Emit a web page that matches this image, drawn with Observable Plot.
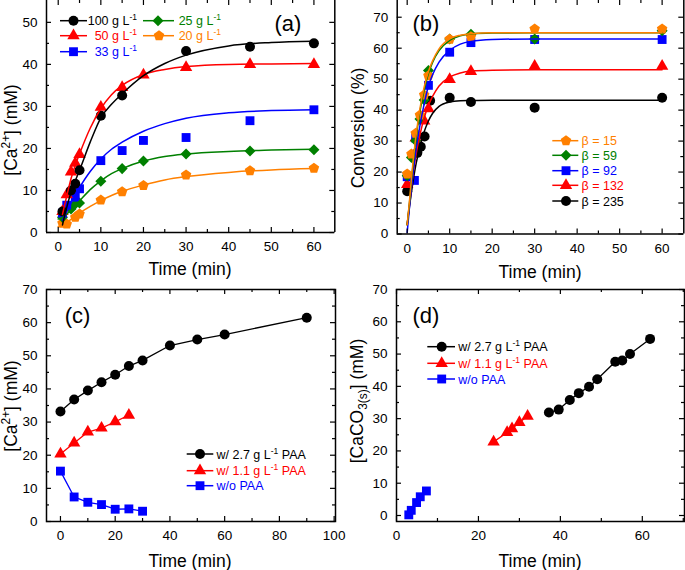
<!DOCTYPE html>
<html><head><meta charset="utf-8">
<script src="https://cdn.jsdelivr.net/npm/d3@7"></script>
<script src="https://cdn.jsdelivr.net/npm/@observablehq/plot@0.6"></script>
<style>
body{margin:0;background:#fff;}
#wrap{position:relative;width:685px;height:570px;overflow:hidden;background:#fff;}
#wrap svg{position:absolute;overflow:visible;}
</style></head><body><div id="wrap"></div>
<script>
// ---------- colours ----------
const cBlack = "#000000", cRed = "#ff0000", cBlue = "#0000ff", cGreen = "#008000", cOrange = "#ff8000";

// ---------- panel (a): [Ca2+] vs time for solid loadings ----------
const aT100 = [1, 3, 4, 5, 10, 15, 30, 45, 60];
const aC100 = [5.0, 10.0, 11.6, 14.8, 27.8, 32.6, 43.2, 44.2, 45.0];
const aT50 = [1, 2, 3, 4, 5, 10, 15, 20, 30, 45, 60];
const aC50 = [5.0, 9.0, 14.4, 16.5, 18.6, 29.8, 34.5, 37.5, 39.3, 40.0, 40.0];
const aT33 = [1, 2, 4, 5, 10, 15, 20, 30, 45, 60];
const aC33 = [4.6, 6.5, 8.4, 10.4, 17.1, 19.5, 21.9, 22.6, 26.6, 29.2];
const aT25 = [1, 3, 4, 5, 10, 15, 20, 30, 45, 60];
const aC25 = [3.6, 5.6, 6.8, 7.0, 12.2, 15.2, 17.0, 18.7, 19.4, 19.7];
const aT20 = [1, 2, 4, 5, 10, 15, 20, 30, 45, 60];
const aC20 = [2.2, 2.0, 3.6, 4.4, 7.7, 9.7, 11.2, 13.7, 14.7, 15.3];
// fitted curves
const aFitT = [1, 2, 3, 4, 5, 7.5, 10, 12.5, 15, 20, 25, 30, 40, 50, 60];
const aFit100 = [1.8, 6.0, 9.5, 12.3, 14.8, 21.5, 27.3, 30.5, 33.0, 37.3, 40.2, 42.2, 44.4, 45.2, 45.5];
const aFit50 = [4.3, 8.7, 12.8, 16.0, 18.7, 24.8, 29.5, 32.8, 35.0, 37.6, 38.8, 39.5, 40.0, 40.1, 40.2];
const aFit33 = [2.9, 5.0, 7.0, 9.0, 10.7, 14.5, 17.5, 19.8, 21.5, 24.1, 25.9, 27.2, 28.5, 29.0, 29.2];
const aFitT2 = [0, 1, 2, 3, 4, 5, 7.5, 10, 12.5, 15, 20, 25, 30, 40, 50, 60];
const aFit25 = [3.2, 3.6, 4.4, 5.3, 6.4, 7.5, 10.2, 12.3, 14.0, 15.2, 17.0, 18.1, 18.7, 19.3, 19.6, 19.8];
const aFit20 = [1.4, 1.9, 2.4, 3.1, 3.8, 4.6, 6.2, 7.6, 8.8, 9.8, 11.3, 12.5, 13.3, 14.3, 14.9, 15.2];
const aLegend = ["100 g L", "50 g L", "33 g L", "25 g L", "20 g L"];
const aXTicks = [0, 10, 20, 30, 40, 50, 60];
const aYTicks = [0, 10, 20, 30, 40, 50];

// ---------- panel (b): conversion vs time for beta ----------
const bT15 = [0, 1, 2, 3, 4, 5, 10, 15, 30, 60];
const bV15 = [19.4, 25.8, 32.5, 38.4, 44.9, 51.1, 62.9, 63.7, 66.2, 66.2];
const bT59 = [0, 1, 2, 3, 4, 5, 10, 15, 30, 60];
const bV59 = [18.8, 24.7, 30.1, 37.1, 43.3, 52.8, 63.0, 64.5, 63.0, 65.6];
const bT92 = [0, 1.7, 2, 5, 10, 15, 30, 60];
const bV92 = [18.5, 17.3, 31.0, 48.0, 58.7, 61.8, 62.8, 62.8];
const bT132 = [0, 2, 4, 5, 10, 15, 30, 60];
const bV132 = [16.0, 31.0, 36.5, 40.5, 49.9, 52.5, 54.2, 54.2];
const bT235 = [0, 2.4, 3.2, 4.1, 5.4, 10, 15, 30, 60];
const bV235 = [13.8, 26.2, 28.2, 31.5, 43.0, 44.0, 42.6, 40.8, 44.0];
const bFitT = [0, 0.5, 1, 1.5, 2, 3, 4, 5, 6, 7.5, 10, 12.5, 15, 20, 30, 60];
const bFit15 = [3.0, 10.0, 18.0, 25.0, 31.0, 40.5, 47.5, 52.5, 56.0, 59.8, 63.0, 64.2, 64.7, 65.0, 65.0, 65.0];
const bFit59 = [3.0, 9.5, 17.0, 24.0, 30.0, 39.5, 46.5, 51.8, 55.5, 59.2, 62.5, 64.0, 64.6, 64.9, 65.0, 65.0];
const bFit92 = [0.5, 8.0, 15.0, 21.0, 26.5, 35.0, 42.0, 47.8, 51.5, 55.5, 59.3, 61.3, 62.2, 62.8, 63.0, 63.0];
const bFit132 = [3.0, 9.0, 15.0, 20.5, 25.0, 32.0, 37.5, 41.5, 44.5, 47.8, 50.7, 52.0, 52.6, 52.9, 53.0, 53.0];
const bFit235 = [3.0, 8.5, 13.5, 18.0, 22.0, 28.0, 33.0, 36.5, 39.0, 41.2, 42.6, 43.0, 43.1, 43.2, 43.2, 43.2];
const bLegend = ["β = 15", "β = 59", "β = 92", "β = 132", "β = 235"];
const bXTicks = [0, 10, 20, 30, 40, 50, 60];
const bYTicks = [0, 10, 20, 30, 40, 50, 60, 70];

// ---------- panel (c): [Ca2+] with / without PAA ----------
const cT27 = [0, 5, 10, 15, 20, 25, 30, 40, 50, 60, 90];
const cC27 = [33.2, 36.8, 39.5, 42.0, 44.3, 46.9, 48.6, 53.1, 54.9, 56.4, 61.5];
const cT11 = [0, 5, 10, 15, 20, 25];
const cC11 = [20.4, 23.7, 27.0, 28.2, 30.1, 32.1];
const cT0 = [0, 5, 10, 15, 20, 25, 30];
const cC0 = [15.2, 7.4, 5.8, 5.1, 3.7, 3.8, 3.1];
const cXTicks = [0, 20, 40, 60, 80, 100];
const cYTicks = [0, 10, 20, 30, 40, 50, 60, 70];

// ---------- panel (d): [CaCO3(s)] vs time ----------
const dT27 = [37.2, 39.6, 42.3, 44.5, 47.0, 49.0, 53.4, 55.1, 57.0, 61.9];
const dC27 = [31.9, 32.8, 35.8, 37.9, 39.9, 42.2, 47.6, 48.0, 50.0, 54.7];
const dT11 = [23.7, 27.0, 28.2, 30.0, 32.0];
const dC11 = [22.8, 25.7, 26.9, 28.8, 30.8];
const dT0 = [3.0, 3.6, 4.9, 5.8, 7.3];
const dC0 = [0.2, 1.6, 4.0, 5.8, 7.6];
const dXTicks = [0, 20, 40, 60];
const dYTicks = [0, 10, 20, 30, 40, 50, 60, 70];
const cdLegend = ["w/ 2.7 g L", "w/ 1.1 g L", "w/o PAA"];

// ---------- symbols ----------
const symPentagon = {draw(ctx, size) {
  const R = Math.sqrt(size / (2.5 * Math.sin(2 * Math.PI / 5)));
  for (let i = 0; i < 5; i++) {
    const a = -Math.PI / 2 + i * 2 * Math.PI / 5;
    const x = R * Math.cos(a), y = R * Math.sin(a);
    if (i) ctx.lineTo(x, y); else ctx.moveTo(x, y);
  }
  ctx.closePath();
}};
const symDiamond = {draw(ctx, size) {
  const h = Math.sqrt(size / 2);
  ctx.moveTo(0, -h); ctx.lineTo(h, 0); ctx.lineTo(0, h); ctx.lineTo(-h, 0); ctx.closePath();
}};
const SYM = {
  circle: {type: d3.symbolCircle, r: 5},
  triangle: {type: d3.symbolTriangle, r: 4.6},
  square: {type: d3.symbolSquare, r: 5},
  diamond: {type: symDiamond, r: 4.4},
  pentagon: {type: symPentagon, r: 4.8}
};

const FONT = "'Liberation Sans', Arial, Helvetica, sans-serif";
const rows = (ts, vs) => ts.map((t, i) => ({t, v: vs[i]}));
function dots(ts, vs, sym, color) {
  return Plot.dot(rows(ts, vs), {x: "t", y: "v", symbol: SYM[sym].type, r: SYM[sym].r, fill: color, stroke: "none"});
}
function curve(ts, vs, color, w = 1.5) {
  return Plot.line(rows(ts, vs), {x: "t", y: "v", stroke: color, strokeWidth: w, curve: "monotone-x"});
}
function seg(ts, vs, color) {
  return Plot.line(rows(ts, vs), {x: "t", y: "v", stroke: color, strokeWidth: 1.3});
}
function minorOf(major) {
  const out = [];
  for (let i = 0; i < major.length - 1; i++) out.push((major[i] + major[i + 1]) / 2);
  return out;
}

const wrap = document.getElementById("wrap");

function panel(cfg) {
  const {left, top, width, height, mt, mr, mb, ml, xd, yd, xTicks, yTicks, xMinor, yMinor, marks, openTop} = cfg;
  const fw = width - ml - mr, fh = height - mt - mb;
  const ts = {stroke: "#000", strokeWidth: 1.2};
  const tk = [
    Plot.tickX(xTicks, {x: d => d, insetTop: fh - 5, ...ts}),
    Plot.tickX(xTicks, {x: d => d, insetBottom: fh - 5, ...ts}),
    Plot.tickX(xMinor, {x: d => d, insetTop: fh - 3, ...ts}),
    Plot.tickX(xMinor, {x: d => d, insetBottom: fh - 3, ...ts}),
    Plot.tickY(yTicks, {y: d => d, insetRight: fw - 5, ...ts}),
    Plot.tickY(yTicks, {y: d => d, insetLeft: fw - 5, ...ts}),
    Plot.tickY(yMinor, {y: d => d, insetRight: fw - 3, ...ts}),
    Plot.tickY(yMinor, {y: d => d, insetLeft: fw - 3, ...ts})
  ];
  const frame = openTop
    ? [Plot.ruleX([xd[0], xd[1]], {x: d => d, stroke: "#000", strokeWidth: 1.5}),
       Plot.ruleY([yd[0]], {y: d => d, stroke: "#000", strokeWidth: 1.5})]
    : [Plot.frame({stroke: "#000", strokeWidth: 1.5})];
  const svg = Plot.plot({
    width, height, marginTop: mt, marginRight: mr, marginBottom: mb, marginLeft: ml,
    x: {domain: xd, label: null},
    y: {domain: yd, label: null},
    style: {fontFamily: FONT, fontSize: "13.5px", background: "transparent", overflow: "visible", color: "#000"},
    marks: [
      ...marks,
      ...tk,
      ...frame,
      Plot.axisX(xTicks, {anchor: "bottom", tickSize: 0, tickPadding: 9, label: null, fill: "#000"}),
      Plot.axisY(yTicks, {anchor: "left", tickSize: 0, tickPadding: 9, label: null, fill: "#000"})
    ]
  });
  svg.style.left = left + "px";
  svg.style.top = top + "px";
  wrap.appendChild(svg);
  return d3.select(svg);
}

// rich text helper: parts = [[string, "sup"|"sub"|null], ...]
function richText(g, parts, size, color) {
  const t = g.append("text").attr("fill", color).attr("font-size", size + "px").attr("font-family", FONT);
  let shift = 0;
  for (const [s, kind] of parts) {
    const sp = t.append("tspan").text(s);
    let target = 0;
    if (kind === "sup") { sp.attr("font-size", (size * 0.68) + "px"); target = -0.38 * size; }
    else if (kind === "sub") { sp.attr("font-size", (size * 0.68) + "px"); target = 0.25 * size; }
    if (target !== shift) { sp.attr("dy", (target - shift).toFixed(2)); shift = target; }
  }
  return t;
}
function titleX(sel, x, y, parts, size = 17.5) {
  richText(sel.append("g").attr("transform", `translate(${x},${y})`), parts, size, "#000").attr("text-anchor", "middle");
}
function titleY(sel, x, y, parts, size = 17.5) {
  richText(sel.append("g").attr("transform", `translate(${x},${y}) rotate(-90)`), parts, size, "#000").attr("text-anchor", "middle");
}
function tag(sel, x, y, s) {
  sel.append("text").attr("x", x).attr("y", y).attr("text-anchor", "middle")
    .attr("font-size", "22px").attr("font-family", FONT).attr("fill", "#000").text(s);
}
function legendItem(sel, x1, x2, xm, y, sym, color, parts, tx, anchor = "start", size = 12.5) {
  sel.append("line").attr("x1", x1).attr("x2", x2).attr("y1", y).attr("y2", y)
    .attr("stroke", color).attr("stroke-width", 1.5);
  const s = SYM[sym];
  sel.append("path").attr("d", d3.symbol(s.type, s.r * s.r * Math.PI)())
    .attr("transform", `translate(${xm},${y})`).attr("fill", color);
  richText(sel.append("g").attr("transform", `translate(${tx},${y + 4.5})`), parts, size, color).attr("text-anchor", anchor);
}

// ---------- draw panel (a) ----------
const A = panel({
  left: 0, top: 0, width: 342, height: 285, mt: 0, mr: 7.7, mb: 53, ml: 46,
  xd: [-2.75, 64.9], yd: [0, 55.2], xTicks: aXTicks, yTicks: aYTicks,
  xMinor: minorOf(aXTicks), yMinor: minorOf(aYTicks), openTop: true,
  marks: [
    dots(aT20, aC20, "pentagon", cOrange),
    dots(aT25, aC25, "diamond", cGreen),
    dots(aT33, aC33, "square", cBlue),
    dots(aT50, aC50, "triangle", cRed),
    dots(aT100, aC100, "circle", cBlack),
    curve(aFitT2, aFit20, cOrange),
    curve(aFitT2, aFit25, cGreen),
    curve(aFitT, aFit33, cBlue),
    curve(aFitT, aFit50, cRed),
    curve(aFitT, aFit100, cBlack)
  ]
});
titleX(A, 190, 275, [["Time (min)", null]]);
titleY(A, 17, 130, [["[Ca", null], ["2+", "sup"], ["] (mM)", null]]);
tag(A, 288, 31, "(a)");
legendItem(A, 60, 87, 73.5, 20.7, "circle", cBlack, [[aLegend[0], null], ["-1", "sup"]], 137, "end");
legendItem(A, 60, 87, 73.5, 35.7, "triangle", cRed, [[aLegend[1], null], ["-1", "sup"]], 137, "end");
legendItem(A, 60, 87, 73.5, 51.7, "square", cBlue, [[aLegend[2], null], ["-1", "sup"]], 137, "end");
legendItem(A, 143, 174, 158, 20.7, "diamond", cGreen, [[aLegend[3], null], ["-1", "sup"]], 221, "end");
legendItem(A, 143, 174, 159, 35.7, "pentagon", cOrange, [[aLegend[4], null], ["-1", "sup"]], 221, "end");

// ---------- draw panel (b) ----------
const B = panel({
  left: 342, top: 0, width: 343, height: 285, mt: 0, mr: 1.7, mb: 51.5, ml: 54.7,
  xd: [-2.35, 65.1], yd: [0, 75.4], xTicks: bXTicks, yTicks: bYTicks,
  xMinor: minorOf(bXTicks), yMinor: minorOf(bYTicks), openTop: true,
  marks: [
    dots(bT235, bV235, "circle", cBlack),
    dots(bT132, bV132, "triangle", cRed),
    dots(bT92, bV92, "square", cBlue),
    dots(bT59, bV59, "diamond", cGreen),
    dots(bT15, bV15, "pentagon", cOrange),
    curve(bFitT, bFit235, cBlack),
    curve(bFitT, bFit132, cRed),
    curve(bFitT, bFit92, cBlue),
    curve(bFitT, bFit59, cGreen),
    curve(bFitT, bFit15, cOrange)
  ]
});
titleX(B, 198, 278, [["Time (min)", null]]);
titleY(B, 22, 128, [["Conversion (%)", null]]);
tag(B, 84, 31, "(b)");
const bSyms = ["pentagon", "diamond", "square", "triangle", "circle"];
const bCols = [cOrange, cGreen, cBlue, cRed, cBlack];
const bRowsY = [140.7, 155.3, 170.7, 185.3, 201];
bLegend.forEach((s, i) => legendItem(B, 210.3, 236.3, 224, bRowsY[i], bSyms[i], bCols[i], [[s, null]], 239.5, "start"));

// ---------- draw panel (c) ----------
const C = panel({
  left: 0, top: 285, width: 342, height: 285, mt: 4, mr: 7, mb: 49, ml: 46,
  xd: [-5.1, 100.5], yd: [0, 70], xTicks: cXTicks, yTicks: cYTicks,
  xMinor: minorOf(cXTicks), yMinor: minorOf(cYTicks), openTop: false,
  marks: [
    seg(cT27, cC27, cBlack), seg(cT11, cC11, cRed), seg(cT0, cC0, cBlue),
    dots(cT27, cC27, "circle", cBlack),
    dots(cT11, cC11, "triangle", cRed),
    dots(cT0, cC0, "square", cBlue)
  ]
});
titleX(C, 190, 282, [["Time (min)", null]]);
titleY(C, 17, 121, [["[Ca", null], ["2+", "sup"], ["] (mM)", null]]);
tag(C, 77.5, 37.5, "(c)");
legendItem(C, 186.7, 213.3, 200, 169, "circle", cBlack, [[cdLegend[0], null], ["-1", "sup"], [" PAA", null]], 216.5);
legendItem(C, 186.7, 213.3, 200, 185.7, "triangle", cRed, [[cdLegend[1], null], ["-1", "sup"], [" PAA", null]], 216.5);
legendItem(C, 186.7, 213.3, 200, 200.7, "square", cBlue, [[cdLegend[2], null]], 216.5);

// ---------- draw panel (d) ----------
const D = panel({
  left: 342, top: 285, width: 343, height: 285, mt: 4, mr: 1, mb: 49, ml: 54,
  xd: [0, 70.3], yd: [-1.86, 70], xTicks: dXTicks, yTicks: dYTicks,
  xMinor: minorOf(dXTicks).concat([70]), yMinor: minorOf(dYTicks), openTop: false,
  marks: [
    seg(dT27, dC27, cBlack), seg(dT11, dC11, cRed), seg(dT0, dC0, cBlue),
    dots(dT27, dC27, "circle", cBlack),
    dots(dT11, dC11, "triangle", cRed),
    dots(dT0, dC0, "square", cBlue)
  ]
});
titleX(D, 198, 282, [["Time (min)", null]]);
titleY(D, 21, 116, [["[CaCO", null], ["3(s)", "sub"], ["] (mM)", null]]);
tag(D, 84, 37.5, "(d)");
legendItem(D, 85.3, 113, 99.7, 61.7, "circle", cBlack, [[cdLegend[0], null], ["-1", "sup"], [" PAA", null]], 116.3);
legendItem(D, 85.3, 113, 99.7, 78.3, "triangle", cRed, [[cdLegend[1], null], ["-1", "sup"], [" PAA", null]], 116.3);
legendItem(D, 85.3, 113, 99.7, 94, "square", cBlue, [[cdLegend[2], null]], 116.3);
</script>
</body></html>
